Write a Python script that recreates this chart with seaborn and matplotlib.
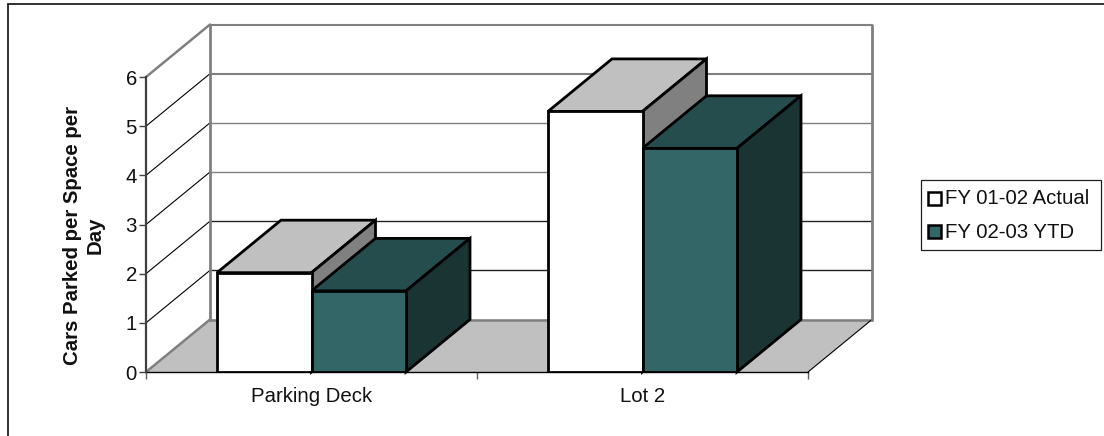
import matplotlib
matplotlib.use("Agg")
import matplotlib.pyplot as plt
import pandas as pd
import seaborn as sns
from matplotlib.lines import Line2D
from matplotlib.patches import Polygon, Rectangle

sns.set_theme(style="white")
plt.rcParams["font.family"] = ["Liberation Sans", "DejaVu Sans"]

categories = ["Parking Deck", "Lot 2"]
series_names = ["FY 01-02 Actual", "FY 02-03 YTD"]
actual_values = [2.02, 5.30]
ytd_values = [1.65, 4.55]
y_ticks = [0, 1, 2, 3, 4, 5, 6]

W, H = 1104, 436
GREY = "#808080"
FLOOR = "#C0C0C0"
FACE = {"white": "#FFFFFF", "teal": "#336666"}
TOP = {"white": "#C0C0C0", "teal": "#264D4D"}
SIDE = {"white": "#808080", "teal": "#1A3333"}
FONT_SIZE = 14.7
TEXT = "#111111"

fig = plt.figure(figsize=(W / 100, H / 100), dpi=100, facecolor="white")
# plot area is the front plane of the box
L, R, T, B = 146, 808, 77, 372
ax = fig.add_axes([L / W, 1 - B / H, (R - L) / W, (B - T) / H])

df = pd.DataFrame({
    "category": categories * 2,
    "series": [series_names[0]] * 2 + [series_names[1]] * 2,
    "value": actual_values + ytd_values,
})
sns.barplot(
    data=df, x="category", y="value", hue="series", ax=ax,
    palette=[FACE["white"], FACE["teal"]], width=0.571, saturation=1,
    edgecolor="black", linewidth=2.0, legend=False, zorder=6,
)
ax.set_xlim(-0.5, 1.5)
ax.set_ylim(0, 6)
ax.set_facecolor("none")

# depth of the box, in data units
DX = 64 / ((R - L) / 2)
DY = 52.5 / ((B - T) / 6)
x0, x1 = -0.5, 1.5

# floor, walls and gridlines
ax.add_patch(Polygon([(x0, 0), (x1, 0), (x1 + DX, DY), (x0 + DX, DY)],
                     facecolor=FLOOR, edgecolor="none", zorder=1, clip_on=False))
for v in y_ticks[1:]:
    thick = v >= 3
    ax.plot([x0 + DX, x1 + DX], [v + DY, v + DY], clip_on=False, zorder=2,
            color=GREY if thick else "#222222", lw=1.5 if thick and v in (5, 6) else 1.0,
            solid_capstyle="butt")
    ax.plot([x0, x0 + DX], [v, v + DY], clip_on=False, zorder=2,
            color=GREY if v == 6 else "black", lw=1.8 if v == 6 else 0.8)
ax.plot([x0 + DX, x1 + DX], [DY, DY], color=GREY, lw=1.8, clip_on=False, zorder=2)
ax.plot([x0, x0 + DX], [0, DY], color=GREY, lw=1.8, clip_on=False, zorder=2)
ax.plot([x1, x1 + DX], [0, DY], color="black", lw=0.8, clip_on=False, zorder=2)
for x in (x0 + DX, x1 + DX):
    ax.plot([x, x], [DY, 6 + DY], color=GREY, lw=2.0, clip_on=False, zorder=2)

# top and side faces built from the drawn bars
keys = ["white", "white", "teal", "teal"]
for bar, key in zip(ax.patches[:4], keys):
    left, w, h = bar.get_x(), bar.get_width(), bar.get_height()
    z = 3 if key == "white" else 4
    ax.add_patch(Polygon([(left, h), (left + w, h), (left + w + DX, h + DY), (left + DX, h + DY)],
                         facecolor=TOP[key], edgecolor="black", lw=2.0, joinstyle="miter",
                         zorder=z, clip_on=False))
    ax.add_patch(Polygon([(left + w, 0), (left + w, h), (left + w + DX, h + DY), (left + w + DX, DY)],
                         facecolor=SIDE[key], edgecolor="black", lw=2.0, joinstyle="miter",
                         zorder=z, clip_on=False))

# axes
sns.despine(ax=ax, top=True, right=True)
ax.spines["left"].set(color="#404040", linewidth=1.6, zorder=7)
ax.spines["bottom"].set(color="black", linewidth=1.0, zorder=5)
ax.set_yticks(y_ticks)
ax.set_xticks([-0.5, 0.5, 1.5], labels=[], minor=False)
ax.set_xticks([0, 1], labels=categories, minor=True)
ax.tick_params(axis="y", length=5, width=1, color="#404040", left=True, pad=1.5,
               labelsize=FONT_SIZE, labelcolor=TEXT)
ax.tick_params(axis="x", which="major", length=5, width=1, color="#606060", bottom=True)
ax.tick_params(axis="x", which="minor", length=0, pad=11, labelsize=FONT_SIZE, labelcolor=TEXT)
ax.set_xlabel("")
ax.set_ylabel("")

# axis title
fig.text(84 / W, 1 - 235 / H, "Cars Parked per Space per\nDay", rotation=90, ha="center",
         va="center", fontsize=FONT_SIZE, fontweight="bold", color=TEXT, linespacing=1.2,
         multialignment="center")

# legend box
fig.add_artist(Rectangle((920.5 / W, 1 - 250 / H), 180 / W, 70 / H, transform=fig.transFigure,
                         facecolor="white", edgecolor="#202020", lw=0.9))
for y, key, name in zip((198, 232), ("white", "teal"), series_names):
    fig.add_artist(Rectangle((927.5 / W, 1 - (y + 6.5) / H), 13 / W, 13 / H, transform=fig.transFigure,
                             facecolor=FACE[key], edgecolor="black", lw=1.8))
    fig.text(945 / W, 1 - y / H, name, fontsize=FONT_SIZE, color=TEXT, va="center", ha="left")

# outer chart border, open at the right and bottom
fig.add_artist(Line2D([7.5 / W, 7.5 / W, 1], [0, 1 - 4.5 / H, 1 - 4.5 / H], transform=fig.transFigure,
                      color="#202020", lw=1.3, solid_joinstyle="miter"))

fig.savefig("out.png", dpi=100)
